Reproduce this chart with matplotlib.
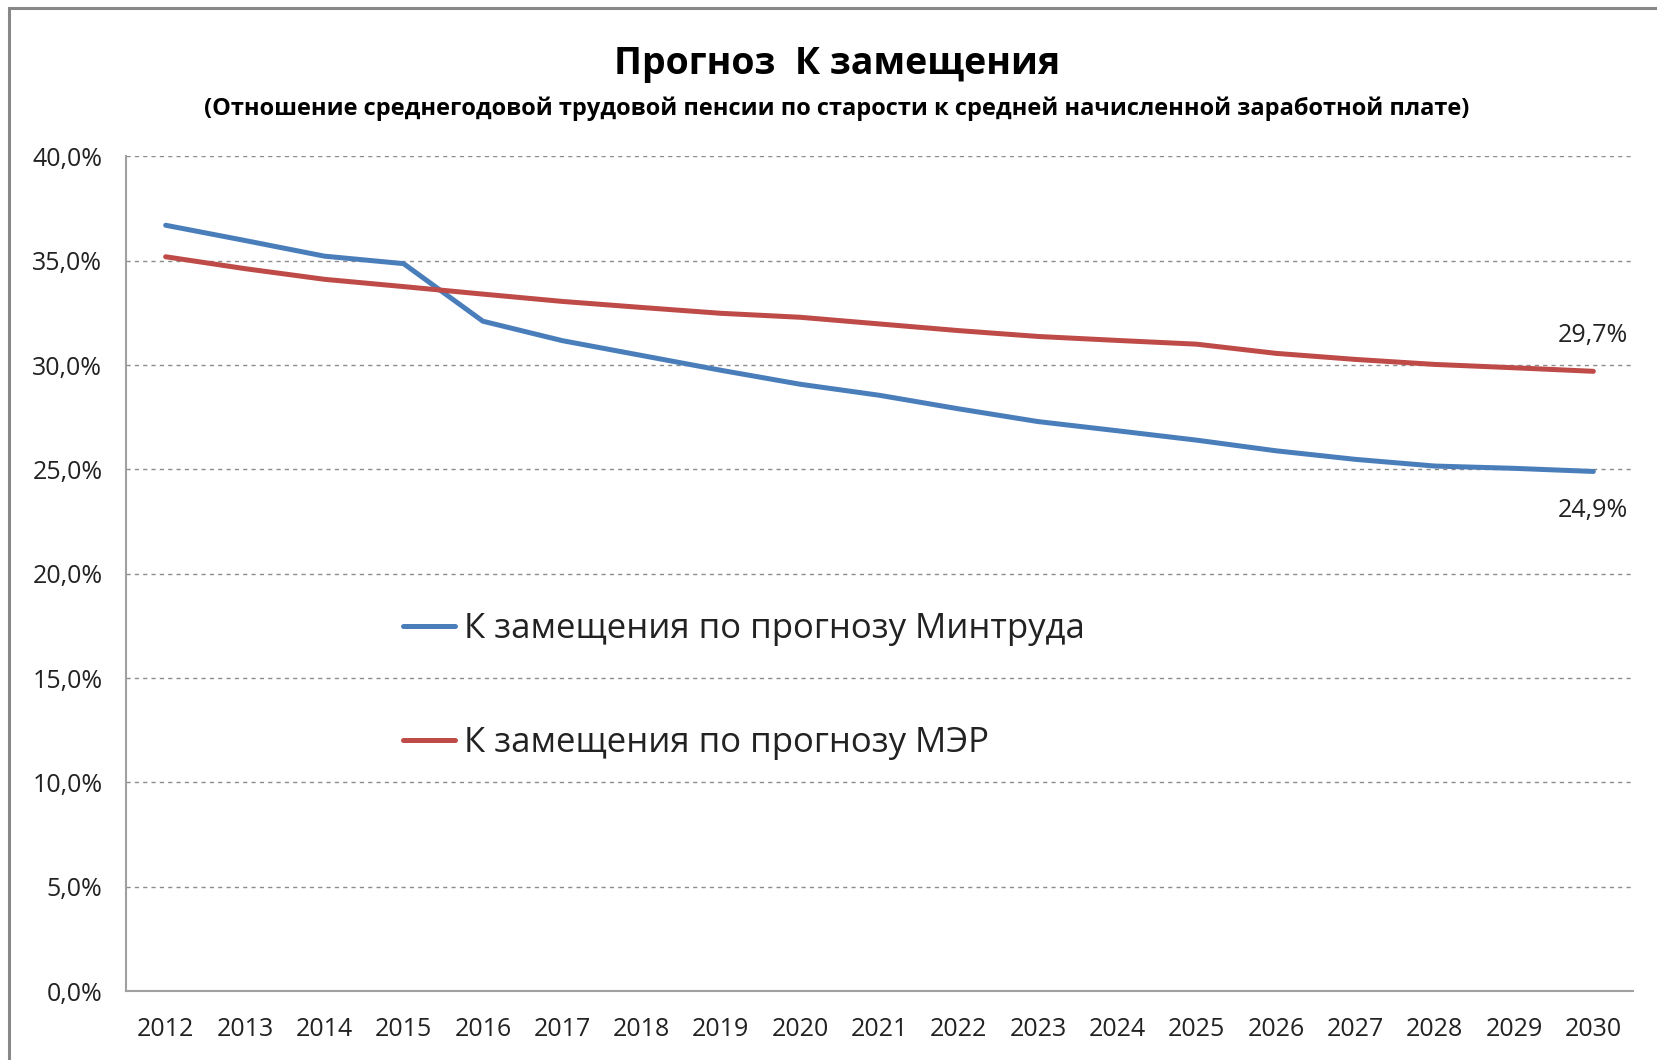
import matplotlib
matplotlib.use('Agg')
from matplotlib import pyplot as plt
from matplotlib.patches import Rectangle
from matplotlib.ticker import FuncFormatter

years = [str(y) for y in range(2012, 2031)]
mintrud = [36.7, 35.97, 35.22, 34.86, 32.1, 31.17, 30.46, 29.75, 29.08, 28.55,
           27.9, 27.29, 26.85, 26.4, 25.89, 25.48, 25.16, 25.05, 24.9]
mer = [35.19, 34.62, 34.11, 33.76, 33.4, 33.05, 32.76, 32.48, 32.29, 31.97,
       31.65, 31.37, 31.18, 31.0, 30.56, 30.27, 30.03, 29.87, 29.7]
label_mintrud = 'К замещения по прогнозу Минтруда'
label_mer = 'К замещения по прогнозу МЭР'

plt.rcParams['font.family'] = ['Open Sans', 'DejaVu Sans']

W, H = 1657, 1060
fig = plt.figure(figsize=(W / 100, H / 100), dpi=100)
ax = fig.add_axes([126 / W, 1 - 991 / H, (1633 - 126) / W, (991 - 156.4) / H])

x = list(range(len(years)))
ax.plot(x, mintrud, color='#4A7EBB', lw=3.6, solid_capstyle='round', label=label_mintrud)
ax.plot(x, mer, color='#BE4B48', lw=3.6, solid_capstyle='round', label=label_mer)

ax.set_xlim(-0.5, len(years) - 0.5)
ax.set_ylim(0, 40)
ax.set_yticks(range(0, 41, 5))
ax.yaxis.set_major_formatter(FuncFormatter(lambda v, p: f'{v:.1f}%'.replace('.', ',')))
ax.set_xticks(x)
ax.set_xticklabels(years)
ax.tick_params(length=0, labelsize=18, colors='#222222')
ax.tick_params(axis='y', pad=17)
ax.tick_params(axis='x', pad=19)

ax.grid(axis='y', color='#8c8c8c', ls=(0, (3, 3)), lw=1)
for s in ['top', 'right']:
    ax.spines[s].set_visible(False)
for s in ['left', 'bottom']:
    ax.spines[s].set_color('#a0a0a0')
    ax.spines[s].set_linewidth(1.5)

ax.annotate(f'{mer[-1]:.1f}%'.replace('.', ','), (x[-1], mer[-1]), xytext=(0, 26),
            textcoords='offset points', ha='center', va='center', fontsize=18, color='#222222')
ax.annotate(f'{mintrud[-1]:.1f}%'.replace('.', ','), (x[-1], mintrud[-1]), xytext=(0, -28),
            textcoords='offset points', ha='center', va='center', fontsize=18, color='#222222')

ax.legend(loc='center left', bbox_to_anchor=(386 / W, 1 - 686 / H), bbox_transform=fig.transFigure,
          frameon=False, fontsize=25, handlelength=1.5, handletextpad=0.25, labelspacing=2.3,
          borderpad=0, labelcolor='#222222')

fig.text(837 / W, 1 - 64 / H, 'Прогноз  К замещения', ha='center', va='center',
         fontsize=27, fontweight='bold')
fig.text(837 / W, 1 - 109 / H,
         '(Отношение среднегодовой трудовой пенсии по старости к средней начисленной заработной плате)',
         ha='center', va='center', fontsize=17, fontweight='bold')

fig.patches.append(Rectangle((9 / W, -0.1), 1.2, 1 - 8 / H + 0.1, transform=fig.transFigure,
                             fill=False, edgecolor='#888888', lw=2.2))

fig.savefig('out.png', dpi=100)
